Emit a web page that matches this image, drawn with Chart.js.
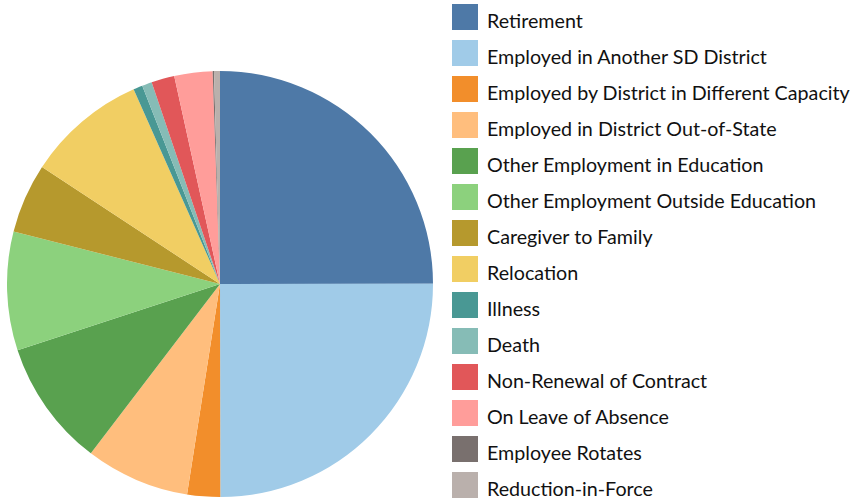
<!DOCTYPE html>
<html>
<head>
<meta charset="utf-8">
<script src="https://cdn.jsdelivr.net/npm/chart.js@4/dist/chart.umd.min.js"></script>
<style>
  html, body { margin: 0; padding: 0; background: #ffffff; }
  body { width: 854px; height: 501px; position: relative; overflow: hidden; }
  #pieChart { position: absolute; left: 7px; top: 71px; }
  #legend { position: absolute; left: 452px; top: 4px; margin: 0; padding: 0; list-style: none;
            font-family: Lato, "Open Sans", sans-serif; font-size: 19.7px; color: #111111; }
  #legend li { height: 26px; margin-bottom: 10px; display: flex; align-items: center; white-space: nowrap; }
  #legend .box { width: 26px; height: 26px; margin-right: 9px; flex: none; }
  #legend .txt { position: relative; top: 3px; }
</style>
</head>
<body>
<canvas id="pieChart" width="426" height="426"></canvas>
<ul id="legend"></ul>
<script>
// reasons for leaving, share of total (%)
const categories = [
  'Retirement',
  'Employed in Another SD District',
  'Employed by District in Different Capacity',
  'Employed in District Out-of-State',
  'Other Employment in Education',
  'Other Employment Outside Education',
  'Caregiver to Family',
  'Relocation',
  'Illness',
  'Death',
  'Non-Renewal of Contract',
  'On Leave of Absence',
  'Employee Rotates',
  'Reduction-in-Force'
];
const shares = [25.0, 25.0, 2.5, 7.9, 9.6, 9.0, 5.3, 9.1, 0.7, 0.75, 1.75, 2.9, 0.1, 0.45];
const colors = [
  '#4e79a7', '#a0cbe8', '#f28e2b', '#ffbe7d', '#59a14f', '#8cd17d', '#b6992d',
  '#f1ce63', '#499894', '#86bcb6', '#e15759', '#ff9d9a', '#79706e', '#bab0ac'
];

let pieChart = null;

function buildLegend() {
  const ul = document.getElementById('legend');
  categories.forEach((name, i) => {
    const li = document.createElement('li');
    const box = document.createElement('span');
    box.className = 'box';
    box.style.background = colors[i];
    const txt = document.createElement('span');
    txt.className = 'txt';
    txt.textContent = name;
    li.appendChild(box);
    li.appendChild(txt);
    ul.appendChild(li);
  });
}

function drawPie() {
  const ctx = document.getElementById('pieChart');
  pieChart = new Chart(ctx, {
    type: 'pie',
    data: {
      labels: categories,
      datasets: [{
        data: shares,
        backgroundColor: colors,
        borderWidth: 0
      }]
    },
    options: {
      responsive: false,
      animation: false,
      layout: { padding: 0 },
      plugins: {
        legend: { display: false },
        tooltip: { enabled: false }
      }
    }
  });
}

buildLegend();
drawPie();
</script>
</body>
</html>
